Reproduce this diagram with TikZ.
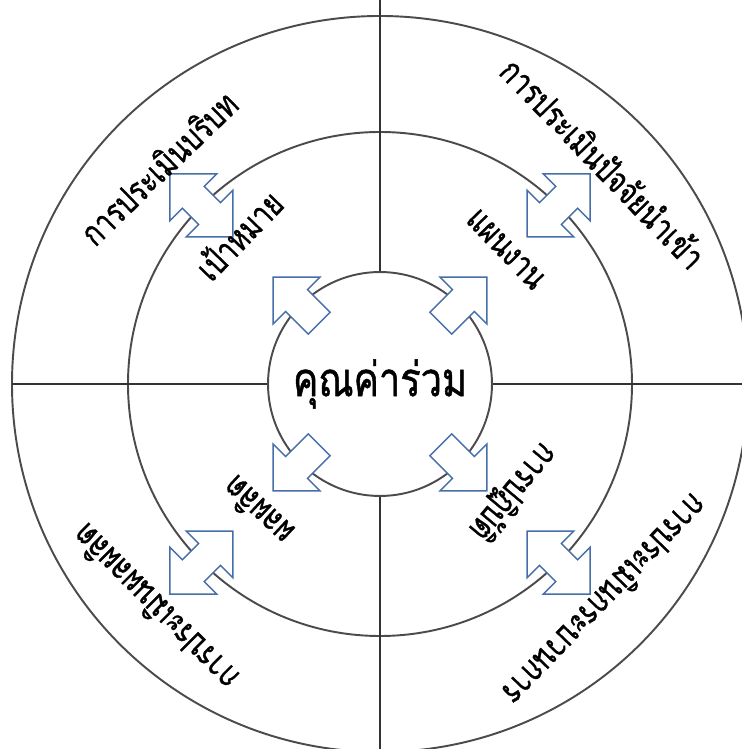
\documentclass[tikz,border=0pt]{standalone}
\usepackage{fontspec}
\newfontfamily\thaifont[Script=Thai, FakeStretch=0.76, FakeBold=1]{Loma}
\newfontfamily\thaicore[Script=Thai, FakeStretch=0.8, FakeBold=1]{Loma}
\definecolor{arrowblue}{RGB}{70,110,168}
\definecolor{ringgray}{RGB}{75,75,75}

\begin{document}
\begin{tikzpicture}[x=0.02cm, y=0.02cm,
   ring/.style={draw=ringgray, line width=1.1pt},
   axis/.style={draw=black!80, line width=0.9pt},
   blockarrow/.style={draw=arrowblue, fill=white, line width=0.85pt, line join=miter},
   every node/.style={font=\thaifont\fontsize{20}{22}\selectfont, inner sep=0pt},
   core/.style={circle, ring, fill=white, minimum size=4.48cm,
                font=\thaicore\fontsize{27}{30}\selectfont}]

\useasboundingbox (-380,-365) rectangle (362,384);
\clip (-380,-365) rectangle (362,384);

% rings and quarters
\draw[ring] (0,0) circle (368);
\draw[ring] (0,0) circle (252);
\draw[axis] (-368,0) -- (362,0);
\draw[axis] (0,384) -- (0,-365);

\node[core] (values) at (0,0) {คุณค่าร่วม};

% arrows out of the core and across the middle ring
\foreach \a in {45,135,225,315}{
  \draw[blockarrow, shift={(\a:118.5)}, rotate=\a]
    (-32.5,-15.5) -- (-0.5,-15.5) -- (-0.5,-33) -- (32.5,0)
    -- (-0.5,33) -- (-0.5,15.5) -- (-32.5,15.5) -- cycle;
  \draw[blockarrow, shift={(\a:252.5)}, rotate=\a]
    (-44.5,0) -- (-11.5,33) -- (-11.5,15.5) -- (11.5,15.5) -- (11.5,33)
    -- (44.5,0) -- (11.5,-33) -- (11.5,-15.5) -- (-11.5,-15.5)
    -- (-11.5,-33) -- cycle;
}

% inner ring
\node[rotate=46]  (goal)    at (133.5:206) {เป้าหมาย};
\node[rotate=-46] (plan)    at (47:184)    {แผนงาน};
\node[rotate=137] (outcome) at (226:177)   {ผลผลิต};
\node[rotate=230] (action)  at (-39:171)   {การปฏิบัติ};

% outer ring
\node[rotate=44]  (context) at (135.7:310) {การประเมินบริบท};
\node[rotate=-46] (input)   at (44.7:315)  {การประเมินปัจจัยนำเข้า};
\node[rotate=226] (process) at (-43.8:313) {การประเมินกระบวนการ};
\node[rotate=135] (product) at (224.8:318) {การประเมินผลผลิต};

\end{tikzpicture}
\end{document}
